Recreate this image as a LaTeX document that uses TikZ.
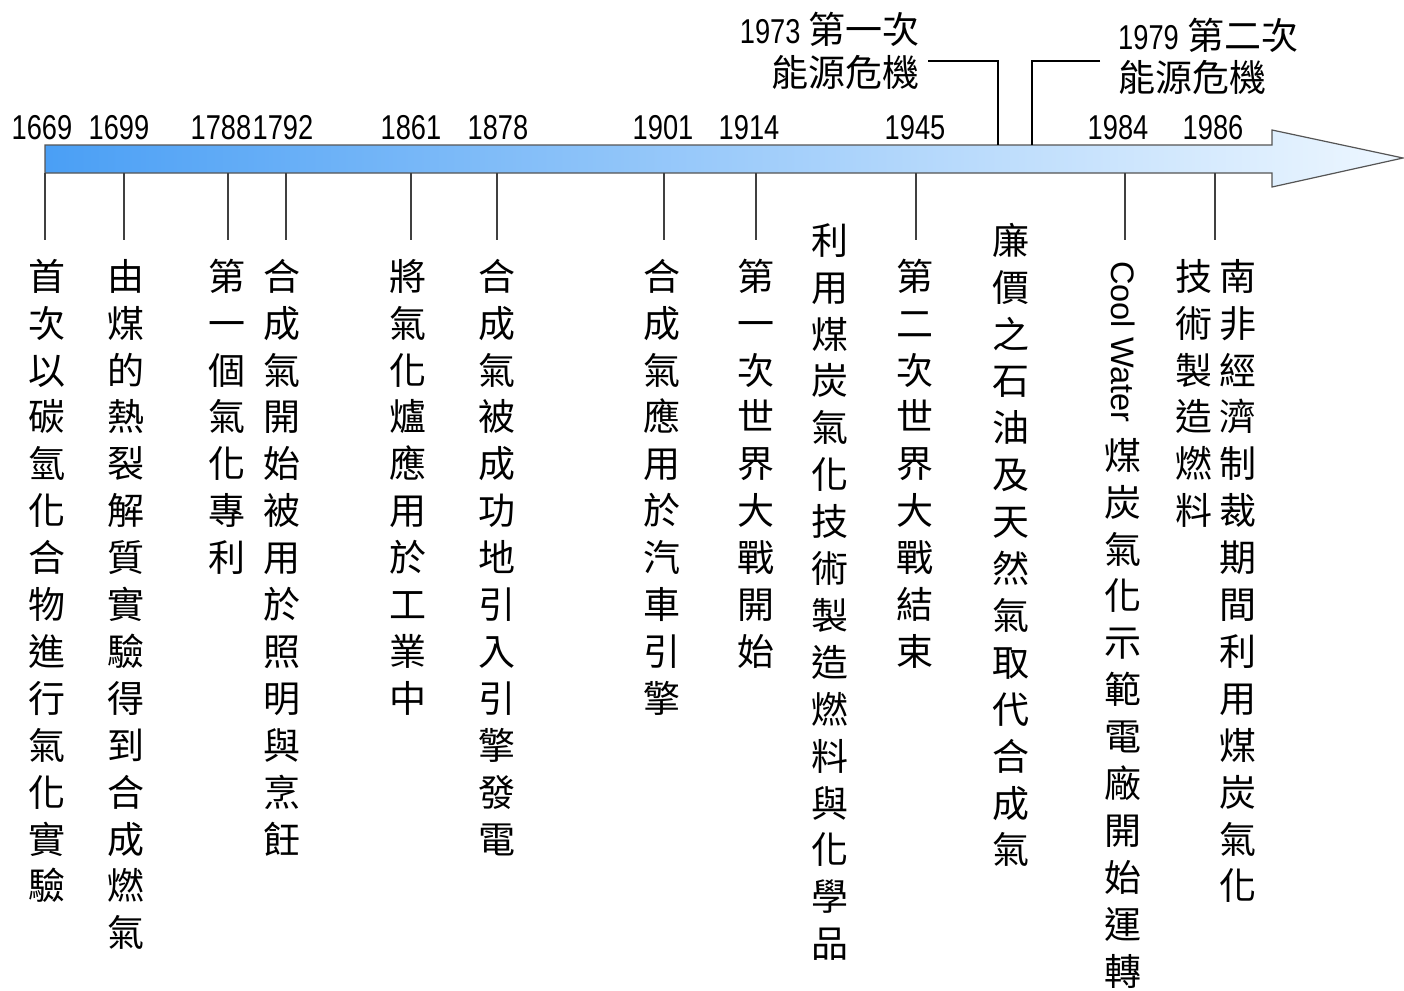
\documentclass[tikz,border=0pt]{standalone}
\usepackage{fontspec}
\setmainfont{Liberation Sans}
\newfontfamily\cjk{Noto Sans CJK TC}
\newfontfamily\yrfont[FakeStretch=0.79]{Liberation Sans}
\makeatletter
\newcommand\vcol[1]{\vbox{\offinterlineskip\@tfor\vc@ch:=#1\do{\hbox to 40pt{\vrule height 33pt depth 13.9pt width 0pt\hss\vc@ch\hss}}}}
\makeatother
\definecolor{tickgray}{HTML}{404040}
\definecolor{arrowleft}{HTML}{4A9FF5}
\definecolor{arrowright}{HTML}{EEF7FF}
\definecolor{arrowedge}{HTML}{555555}
\tikzset{
  yearlbl/.style={font=\yrfont\fontsize{34.5}{34.5}\selectfont, inner sep=0pt, anchor=base},
  vt/.style={font=\cjk\fontsize{37}{37}\selectfont, inner sep=0pt, anchor=north},
  crisislbl/.style={font=\cjk\fontsize{37}{37}\selectfont, inner sep=0pt},
  ticklink/.style={draw=tickgray, line width=2.2pt},
  crisislink/.style={draw=black, line width=2pt},
}
\begin{document}
\begin{tikzpicture}[x=1pt,y=-1pt]
\useasboundingbox (0,0) rectangle (1404,990);
\fill[white] (0,0) rectangle (1404,990);
% main arrow
\path[draw=arrowedge, line width=1.2pt, left color=arrowleft, right color=arrowright]
  (45,145) -- (1272,145) -- (1272,130) -- (1403,158) -- (1272,187) -- (1272,173) -- (45,173) -- cycle;
% year labels
\foreach \yr/\xx in {1669/42,1699/119,1788/221,1792/283,1861/411,1878/498,1901/663,1914/749,1945/915,1984/1118,1986/1213}{
  \node[yearlbl] (y\yr) at (\xx,139) {\yr};
}
% ticks
\foreach \yr/\xx in {1669/45,1699/124,1788/228,1792/286,1861/411,1878/497,1901/664,1914/756,1945/916,1984/1125,1986/1215}{
  \coordinate (ta\yr) at (\xx,173);
  \coordinate (tb\yr) at (\xx,240);
  \draw[ticklink] (ta\yr) -- (tb\yr);
}
% vertical texts
\node[vt] (d1669) at (47,257) {\vcol{首次以碳氫化合物進行氣化實驗}};
\node[vt] (d1699) at (126,257) {\vcol{由煤的熱裂解質實驗得到合成燃氣}};
\node[vt] (d1788) at (227,257) {\vcol{第一個氣化專利}};
\node[vt] (d1792) at (282,257) {\vcol{合成氣開始被用於照明與烹飪}};
\node[vt] (d1861) at (408,257) {\vcol{將氣化爐應用於工業中}};
\node[vt] (d1878) at (497,257) {\vcol{合成氣被成功地引入引擎發電}};
\node[vt] (d1901) at (662,257) {\vcol{合成氣應用於汽車引擎}};
\node[vt] (d1914) at (756,257) {\vcol{第一次世界大戰開始}};
\node[vt] (dww) at (830,221) {\vcol{利用煤炭氣化技術製造燃料與化學品}};
\node[vt] (d1945) at (915,257) {\vcol{第二次世界大戰結束}};
\node[vt] (doil) at (1011,221) {\vcol{廉價之石油及天然氣取代合成氣}};
\node[rotate=-90, inner sep=0pt, font=\fontsize{32.5}{32.5}\selectfont] (cw) at (1123,342) {Cool Water};
\node[vt] (d1984) at (1123,436) {\vcol{煤炭氣化示範電廠開始運轉}};
\node[vt] (d1986b) at (1194,257) {\vcol{技術製造燃料}};
\node[vt] (d1986a) at (1238,257) {\vcol{南非經濟制裁期間利用煤炭氣化}};
% energy crises
\node[crisislbl, anchor=base east] (c73a) at (920,44) {{\yrfont\fontsize{34.5}{34.5}\selectfont 1973} 第一次};
\node[crisislbl, anchor=base east] (c73b) at (920,86) {能源危機};
\node[crisislbl, anchor=base west] (c79a) at (1118,49) {{\yrfont\fontsize{34.5}{34.5}\selectfont 1979} 第二次};
\node[crisislbl, anchor=base west] (c79b) at (1118,91) {能源危機};
\coordinate (k73s) at (928,61);
\coordinate (k73e) at (998,145);
\coordinate (k79s) at (1100,61);
\coordinate (k79e) at (1032,145);
\draw[crisislink] (k73s) -| (k73e);
\draw[crisislink] (k79s) -| (k79e);
\end{tikzpicture}
\end{document}
